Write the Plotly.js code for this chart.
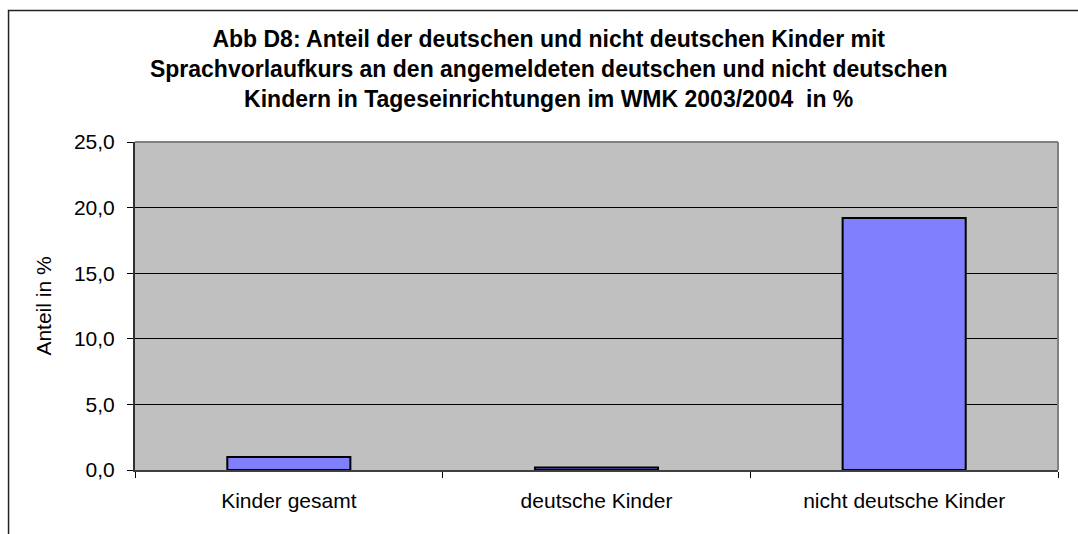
<!DOCTYPE html>
<html>
<head>
<meta charset="utf-8">
<script src="https://cdn.plot.ly/plotly-3.0.1.min.js"></script>
<style>
  html, body { margin: 0; padding: 0; background: #ffffff; }
  #chart { width: 1078px; height: 534px; }
</style>
</head>
<body>
<div id="chart"></div>
<script>
// Werte
const categories = ['Kinder gesamt', 'deutsche Kinder', 'nicht deutsche Kinder'];
const shares = [1.0, 0.2, 19.2];
const yTicks = [0, 5, 10, 15, 20, 25];

const titleText = 'Abb D8: Anteil der deutschen und nicht deutschen Kinder mit<br>' +
    'Sprachvorlaufkurs an den angemeldeten deutschen und nicht deutschen<br>' +
    'Kindern in Tageseinrichtungen im WMK 2003/2004  in %';

const FONT = 'Arial, "Liberation Sans", sans-serif';

const trace = {
    type: 'bar',
    x: categories,
    y: shares,
    marker: {
        color: '#8080ff',
        line: { color: '#000000', width: 2 }
    },
    hoverinfo: 'skip'
};

const layout = {
    width: 1078,
    height: 534,
    margin: { l: 135, r: 20, t: 142, b: 64 },
    paper_bgcolor: '#ffffff',
    plot_bgcolor: '#c0c0c0',
    font: { family: FONT, size: 21, color: '#000000' },
    separators: ',.',
    showlegend: false,
    bargap: 0.6,
    title: {
        text: titleText,
        font: { family: FONT, size: 23, color: '#000000', weight: 'bold' },
        x: 0.509,
        xref: 'container',
        xanchor: 'center',
        y: 0.912,
        yref: 'container',
        yanchor: 'top'
    },
    xaxis: {
        type: 'category',
        tickson: 'boundaries',
        ticks: 'outside',
        ticklen: 6,
        tickcolor: '#000000',
        ticklabelstandoff: 11,
        showgrid: false,
        showline: true,
        linecolor: '#404040',
        linewidth: 2,
        zeroline: false,
        fixedrange: true
    },
    yaxis: {
        range: [0, 25],
        tickvals: yTicks,
        tickformat: '.1f',
        ticks: 'outside',
        ticklen: 6,
        tickcolor: '#000000',
        ticklabelstandoff: 8,
        showgrid: true,
        gridcolor: '#000000',
        gridwidth: 1,
        showline: true,
        linecolor: '#303030',
        linewidth: 2,
        zeroline: false,
        fixedrange: true,
        title: { text: 'Anteil in %', font: { family: FONT, size: 21 }, standoff: 17 }
    },
    shapes: [
        // Rahmen oben und rechts um die Zeichenfläche
        { type: 'line', xref: 'paper', yref: 'paper', x0: 0, x1: 1, y0: 1, y1: 1,
          line: { color: '#808080', width: 2 } },
        { type: 'line', xref: 'paper', yref: 'paper', x0: 1, x1: 1, y0: 0, y1: 1,
          line: { color: '#808080', width: 2 } },
        // äußerer Diagrammrahmen (nur links und oben sichtbar)
        { type: 'rect', xref: 'paper', yref: 'paper', x0: -0.137, x1: 1.2, y0: -0.4, y1: 1.401,
          line: { color: '#222222', width: 1.5 } }
    ]
};

Plotly.newPlot('chart', [trace], layout, { displayModeBar: false, staticPlot: true });
</script>
</body>
</html>
